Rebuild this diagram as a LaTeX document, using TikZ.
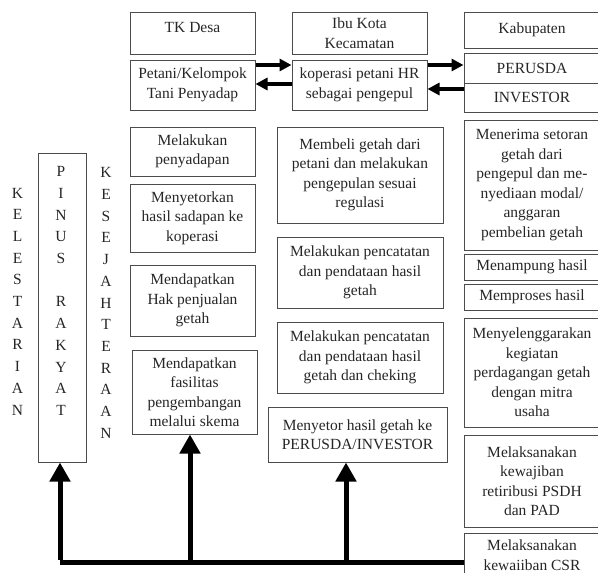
\documentclass[tikz,border=0pt]{standalone}
\usepackage{fontspec}
\setmainfont{Liberation Serif}
\usetikzlibrary{arrows.meta}
\tikzset{
  box/.style={draw=black!70, line width=1pt, inner sep=2pt, align=center, text=black!85,
    font=\fontsize{15.5}{19.5}\selectfont},
  vletters/.style={align=center, inner sep=0pt, text=black!85,
    font=\fontsize{15.5}{21.7}\selectfont},
  harrow/.style={line width=3.5pt, -{Triangle[length=12pt,width=12pt]}},
  varrow/.style={line width=5pt, -{Triangle[length=19pt,width=20pt]}},
  thickline/.style={line width=5pt},
}
\begin{document}
\begin{tikzpicture}[x=1pt,y=-1pt]
\useasboundingbox (0,0) rectangle (598,573);
\clip (0,0) rectangle (598,573);
% left column
\node[box, minimum width=125pt, minimum height=42pt, text height=10pt, text depth=12pt] (tk) at (192.5,33) {TK Desa};
\node[box, minimum width=125pt, minimum height=50pt] (petani) at (192.5,85) {Petani/Kelompok\\Tani Penyadap};
\node[box, minimum width=125pt, minimum height=49pt] (sadap) at (192.5,151.5) {Melakukan\\penyadapan};
\node[box, minimum width=125pt, minimum height=68pt] (setorkan) at (192.5,218) {Menyetorkan\\hasil sadapan ke\\koperasi};
\node[box, minimum width=125pt, minimum height=71pt] (hak) at (192.5,300.5) {Mendapatkan\\Hak penjualan\\getah};
\node[box, minimum width=125pt, minimum height=84pt] (fasilitas) at (194.5,392) {Mendapatkan\\fasilitas\\pengembangan\\melalui skema};
% middle column
\node[box, minimum width=135pt, minimum height=42pt] (ibukota) at (359.5,33) {Ibu Kota\\Kecamatan};
\node[box, minimum width=135pt, minimum height=50pt] (koperasi) at (359.5,85) {koperasi petani HR\\sebagai pengepul};
\node[box, minimum width=166pt, minimum height=96pt] (membeli) at (360,175) {Membeli getah dari\\petani dan melakukan\\pengepulan sesuai\\regulasi};
\node[box, minimum width=166pt, minimum height=71pt] (catat1) at (360,272.5) {Melakukan pencatatan\\dan pendataan hasil\\getah};
\node[box, minimum width=166pt, minimum height=71pt] (catat2) at (360,357.5) {Melakukan pencatatan\\dan pendataan hasil\\getah dan cheking};
\node[box, minimum width=179pt, minimum height=55pt] (menyetor) at (357.5,434.5) {Menyetor hasil getah ke\\PERUSDA/INVESTOR};
% right column
\node[box, minimum width=136pt, minimum height=36pt] (kab) at (532,30) {Kabupaten};
\node[box, minimum width=136pt, minimum height=30pt] (perusda) at (532,68) {PERUSDA};
\node[box, minimum width=136pt, minimum height=29pt] (investor) at (532,97.5) {INVESTOR};
\node[box, minimum width=136pt, minimum height=130pt] (menerima) at (532,185) {Menerima setoran\\getah dari\\pengepul dan me-\\nyediaan modal/\\anggaran\\pembelian getah};
\node[box, minimum width=136pt, minimum height=26pt] (menampung) at (532,267) {Menampung hasil};
\node[box, minimum width=136pt, minimum height=26pt] (memproses) at (532,297) {Memproses hasil};
\node[box, minimum width=136pt, minimum height=109pt] (dagang) at (532,372.5) {Menyelenggarakan\\kegiatan\\perdagangan getah\\dengan mitra\\usaha};
\node[box, minimum width=136pt, minimum height=92pt] (psdh) at (532,481) {Melaksanakan\\kewajiban\\retiribusi PSDH\\dan PAD};
\node[box, minimum width=136pt, minimum height=44pt] (csr) at (532,555) {Melaksanakan\\kewaiiban CSR};
% vertical words
\node[box, minimum width=48pt, minimum height=309pt] (pinus) at (62,307.5) {};
\node[vletters] (pinusT) at (61,291) {P\\I\\N\\U\\S\\\mbox{}\\R\\A\\K\\Y\\A\\T};
\node[vletters] (lestari) at (17.5,301.5) {K\\E\\L\\E\\S\\T\\A\\R\\I\\A\\N};
\node[vletters] (sejahtera) at (106,303) {K\\E\\S\\E\\J\\A\\H\\T\\E\\R\\A\\A\\N};
% horizontal arrows
\draw[harrow] ([yshift=20pt]petani.east) -- ([yshift=20pt]koperasi.west);
\draw[harrow] ([yshift=1pt]koperasi.west) -- ([yshift=1pt]petani.east);
\draw[harrow] ([yshift=20pt]koperasi.east) -- ([yshift=3pt]perusda.west);
\draw[harrow] ([yshift=8.5pt]investor.west) -- ([yshift=-4pt]koperasi.east);
% bottom connector
\coordinate (c0) at (60,562);
\draw[thickline] (c0) -- (csr.west |- c0);
\draw[varrow] ([yshift=2.5pt]c0) -- (c0 |- pinus.south);
\draw[varrow] ([xshift=-4.5pt]fasilitas.south |- c0) -- ([xshift=-4.5pt]fasilitas.south);
\draw[varrow] ([xshift=-11.5pt]menyetor.south |- c0) -- ([xshift=-11.5pt]menyetor.south);
\end{tikzpicture}
\end{document}
